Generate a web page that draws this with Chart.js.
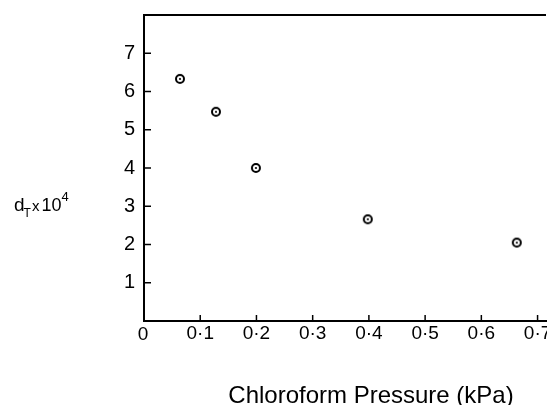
<!DOCTYPE html>
<html>
<head>
<meta charset="utf-8">
<script src="https://cdn.jsdelivr.net/npm/chart.js@4"></script>
<style>
  body { margin: 0; background: #fff; overflow: hidden; }
  canvas { display: block; }
</style>
</head>
<body>
<!-- canvas a little wider than the window: the frame runs off the right edge like the scan -->
<canvas id="c" width="553" height="405"></canvas>
<script>
// values
const pressure = [0.064, 0.128, 0.199, 0.398, 0.663];
const dT = [6.33, 5.47, 4.0, 2.66, 2.05];
const xTickValues = [0, 0.1, 0.2, 0.3, 0.4, 0.5, 0.6, 0.7];
const yTickValues = [1, 2, 3, 4, 5, 6, 7];
const xTitle = "Chloroform Pressure (kPa)";

const FONT = "'Liberation Sans', 'DejaVu Sans', sans-serif";

// ring with a dot in the middle, like the scanned markers
function makeMarker() {
  const m = document.createElement("canvas");
  m.width = 12; m.height = 12;
  const g = m.getContext("2d");
  g.strokeStyle = "#000";
  g.lineWidth = 2;
  g.beginPath(); g.arc(6, 6, 4, 0, Math.PI * 2); g.stroke();
  g.fillStyle = "#000";
  g.beginPath(); g.arc(6, 6, 1.1, 0, Math.PI * 2); g.fill();
  return m;
}

const decor = {
  id: "decor",
  afterDraw(chart) {
    const { ctx, chartArea: a, scales } = chart;
    ctx.save();
    ctx.strokeStyle = "#000";
    ctx.lineWidth = 2;
    // top frame line
    ctx.beginPath();
    ctx.moveTo(a.left, a.top);
    ctx.lineTo(a.right, a.top);
    ctx.stroke();
    // inward tick marks
    ctx.lineWidth = 1.5;
    yTickValues.forEach((v) => {
      const y = scales.y.getPixelForValue(v);
      ctx.beginPath(); ctx.moveTo(a.left, y); ctx.lineTo(a.left + 7, y); ctx.stroke();
    });
    xTickValues.slice(1).forEach((v) => {
      const x = scales.x.getPixelForValue(v);
      ctx.beginPath(); ctx.moveTo(x, a.bottom); ctx.lineTo(x, a.bottom - 6); ctx.stroke();
    });

    ctx.fillStyle = "#000";
    // lone "0" at the origin
    ctx.font = "19px " + FONT;
    ctx.textAlign = "center";
    ctx.textBaseline = "middle";
    ctx.fillText("0", a.left - 1, a.bottom + 14);

    // x axis title
    ctx.font = "24px " + FONT;
    ctx.fillText(xTitle, 371, 396);

    // y axis title: d_T x 10^4
    ctx.textAlign = "left";
    ctx.textBaseline = "alphabetic";
    let x = 14;
    const base = 211;
    ctx.font = "19px " + FONT;
    ctx.fillText("d", x, base); x += ctx.measureText("d").width;
    ctx.font = "12px " + FONT;
    ctx.fillText("T", x - 1, base + 6); x += ctx.measureText("T").width;
    ctx.font = "15px " + FONT;
    ctx.fillText("x", x, base); x += ctx.measureText("x ").width - 2;
    ctx.font = "18px " + FONT;
    ctx.fillText("10", x, base); x += ctx.measureText("10").width;
    ctx.font = "13px " + FONT;
    ctx.fillText("4", x, base - 10);
    ctx.restore();
  }
};

new Chart(document.getElementById("c"), {
  type: "scatter",
  data: {
    datasets: [{
      data: pressure.map((p, i) => ({ x: p, y: dT[i] })),
      pointStyle: makeMarker(),
      pointRadius: 6,
    }]
  },
  options: {
    responsive: false,
    animation: false,
    layout: { padding: { top: 15, right: 0, left: 0, bottom: 0 } },
    plugins: { legend: { display: false }, tooltip: { enabled: false } },
    scales: {
      x: {
        type: "linear",
        min: 0,
        max: 0.715,
        afterFit: (s) => { s.height = 84; s.paddingLeft = 0; s.paddingRight = 0; },
        afterBuildTicks: (s) => { s.ticks = xTickValues.map((v) => ({ value: v })); },
        grid: { display: false, drawTicks: false },
        border: { display: true, color: "#000", width: 2 },
        ticks: {
          color: "#000",
          font: { family: FONT, size: 19 },
          padding: 1,
          maxRotation: 0,
          autoSkip: false,
          callback: (v) => (v === 0 ? "" : v.toFixed(1).replace(".", "\u00b7")),
        },
      },
      y: {
        min: 0,
        max: 8,
        afterFit: (s) => { s.width = 144; s.paddingTop = 0; s.paddingBottom = 0; },
        afterBuildTicks: (s) => { s.ticks = yTickValues.map((v) => ({ value: v })); },
        grid: { display: false, drawTicks: false },
        border: { display: true, color: "#000", width: 2 },
        ticks: {
          color: "#000",
          font: { family: FONT, size: 20 },
          padding: 9,
          autoSkip: false,
        },
      },
    },
  },
  plugins: [decor],
});
</script>
</body>
</html>
